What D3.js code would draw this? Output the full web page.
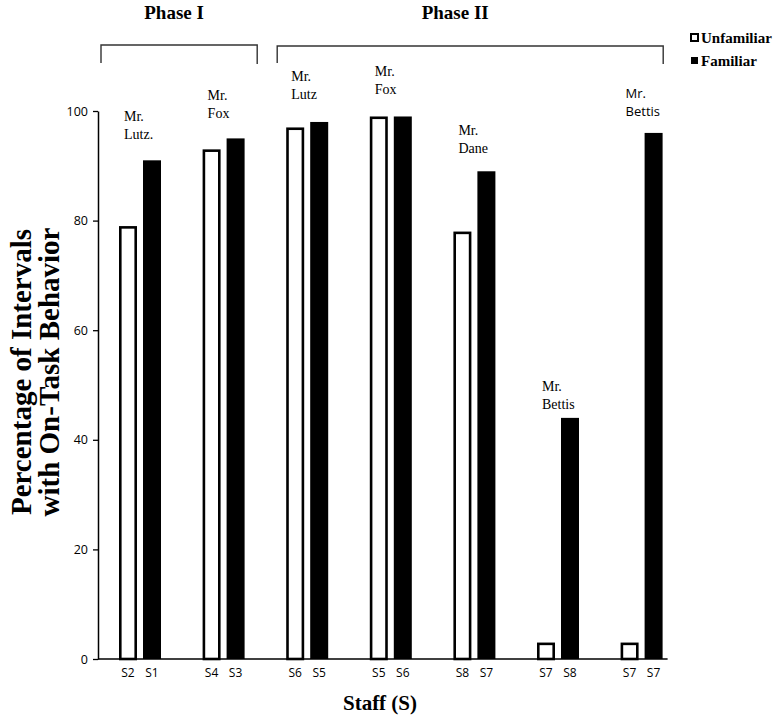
<!DOCTYPE html>
<html>
<head>
<meta charset="utf-8">
<script src="https://cdn.jsdelivr.net/npm/d3@7"></script>
<style>
  body { margin: 0; background: #fff; }
  svg { display: block; }
  .serif { font-family: "Liberation Serif", "Times New Roman", serif; }
  .sans { font-family: "Open Sans", "DejaVu Sans", sans-serif; }
</style>
</head>
<body>
<svg id="chart"></svg>
<script>
// values
const series = ["Unfamiliar", "Familiar"];
const phases = ["Phase I", "Phase II"];
const phaseSpans = [[0, 1], [2, 6]];
const unfamiliarStaff = ["S2", "S4", "S6", "S5", "S8", "S7", "S7"];
const familiarStaff = ["S1", "S3", "S5", "S6", "S7", "S8", "S7"];
const unfamiliarValues = [79, 93, 97, 99, 78, 3, 3];
const familiarValues = [91, 95, 98, 99, 89, 44, 96];
const teachers = [["Mr.", "Lutz."], ["Mr.", "Fox"], ["Mr.", "Lutz"], ["Mr.", "Fox"],
                  ["Mr.", "Dane"], ["Mr.", "Bettis"], ["Mr.", "Bettis"]];
const yTicks = [0, 20, 40, 60, 80, 100];

const width = 777, height = 718;
const margin = { top: 111, left: 98, bottom: 59 };
const step = 83.6;

const svg = d3.select("#chart").attr("width", width).attr("height", height);
svg.append("rect").attr("width", width).attr("height", height).attr("fill", "#fff");

const pairs = d3.range(unfamiliarValues.length);
const x = d3.scaleBand().domain(pairs)
    .range([margin.left, margin.left + step * pairs.length]);
const xSub = d3.scaleBand().domain(series).range([21, 63]).paddingInner(0.25);
const y = d3.scaleLinear().domain([0, 100]).range([height - margin.bottom, margin.top]);

const bars = pairs.flatMap(i => [
    { pair: i, s: "Unfamiliar", v: unfamiliarValues[i], label: unfamiliarStaff[i] },
    { pair: i, s: "Familiar", v: familiarValues[i], label: familiarStaff[i] }
]);
const bw = xSub.bandwidth();
const sw = 2.6;

// bars
svg.append("g").selectAll("rect")
    .data(bars)
    .join("rect")
    .attr("x", d => x(d.pair) + xSub(d.s) + (d.s === "Unfamiliar" ? sw / 2 : 0))
    .attr("y", d => y(d.v) + (d.s === "Unfamiliar" ? sw / 2 : 0))
    .attr("width", d => d.s === "Unfamiliar" ? bw - sw : bw)
    .attr("height", d => y(0) - y(d.v) - (d.s === "Unfamiliar" ? sw / 2 : 0))
    .attr("fill", d => d.s === "Unfamiliar" ? "#fff" : "#000")
    .attr("stroke", d => d.s === "Unfamiliar" ? "#000" : "none")
    .attr("stroke-width", sw);

// x axis line
const lastRight = x(pairs[pairs.length - 1]) + xSub("Familiar") + bw;
svg.append("line")
    .attr("x1", margin.left).attr("x2", lastRight + 5)
    .attr("y1", y(0)).attr("y2", y(0))
    .attr("stroke", "#000").attr("stroke-width", 1.5);

// staff labels under each bar
svg.append("g").selectAll("text")
    .data(bars)
    .join("text")
    .attr("class", "sans")
    .attr("x", d => x(d.pair) + xSub(d.s) + bw / 2)
    .attr("y", y(0) + 18)
    .attr("text-anchor", "middle")
    .attr("font-size", "12px")
    .text(d => d.label);

// y axis
const yAxis = svg.append("g")
    .attr("transform", `translate(${margin.left},0)`)
    .call(d3.axisLeft(y).tickValues(yTicks).tickSize(5).tickSizeOuter(0).tickPadding(5));
yAxis.select(".domain").attr("stroke", "#000").attr("stroke-width", 1.5);
yAxis.selectAll(".tick line").attr("stroke", "#000").attr("stroke-width", 1.3);
yAxis.selectAll(".tick text")
    .attr("class", "sans").attr("font-family", null)
    .attr("font-size", "12.5px").attr("fill", "#000");

// teacher notes above each pair
const noteLift = [22, 21, 24, 23, 19, 10, 18];
const notes = svg.append("g").selectAll("text")
    .data(pairs)
    .join("text")
    .attr("class", i => i === pairs.length - 1 ? "sans" : "serif")
    .attr("x", i => x(i) + xSub("Unfamiliar") + 5)
    .attr("y", i => y(Math.max(unfamiliarValues[i], familiarValues[i])) - noteLift[i] - 17)
    .attr("font-size", i => i === pairs.length - 1 ? "13px" : "14px");
notes.selectAll("tspan")
    .data(i => teachers[i])
    .join("tspan")
    .attr("x", function () { return d3.select(this.parentNode).attr("x"); })
    .attr("dy", (d, k) => k === 0 ? 0 : 18)
    .text(d => d);

// phase brackets
const padL = [3, 12], padR = [8, 20], lift = [1, 0], nudge = [-5, -15];
phaseSpans.forEach(([a, b], i) => {
    const x0 = x(a) + padL[i], x1 = x(b) + step - padR[i];
    const top = 46 - lift[i];
    svg.append("path")
        .attr("d", `M${x0},63 V${top} H${x1} V64`)
        .attr("fill", "none").attr("stroke", "#333").attr("stroke-width", 1.4);
    svg.append("text")
        .attr("class", "serif")
        .attr("x", (x0 + x1) / 2 + nudge[i])
        .attr("y", 19)
        .attr("text-anchor", "middle")
        .attr("font-weight", "bold")
        .attr("font-size", "19px")
        .text(phases[i]);
});

// legend
const legend = svg.append("g").attr("transform", "translate(690,0)");
legend.selectAll("rect")
    .data(series)
    .join("rect")
    .attr("x", 1)
    .attr("y", (d, k) => k === 0 ? 34 : 57)
    .attr("width", 7).attr("height", 7)
    .attr("fill", (d, k) => k === 0 ? "#fff" : "#000")
    .attr("stroke", (d, k) => k === 0 ? "#000" : "none")
    .attr("stroke-width", 2);
legend.selectAll("text")
    .data(series)
    .join("text")
    .attr("class", "serif")
    .attr("x", 11)
    .attr("y", (d, k) => k === 0 ? 43 : 66)
    .attr("font-weight", "bold")
    .attr("font-size", "15px")
    .text(d => d);

// axis titles
svg.append("text")
    .attr("class", "serif")
    .attr("transform", "translate(31,372) rotate(-90)")
    .attr("text-anchor", "middle")
    .attr("font-weight", "bold")
    .attr("font-size", "29px")
    .selectAll("tspan")
    .data(["Percentage of Intervals", "with On-Task Behavior"])
    .join("tspan")
    .attr("x", 0)
    .attr("dy", (d, k) => k === 0 ? 0 : 28)
    .text(d => d);

svg.append("text")
    .attr("class", "serif")
    .attr("x", 380)
    .attr("y", 710)
    .attr("text-anchor", "middle")
    .attr("font-weight", "bold")
    .attr("font-size", "21px")
    .text("Staff (S)");
</script>
</body>
</html>
